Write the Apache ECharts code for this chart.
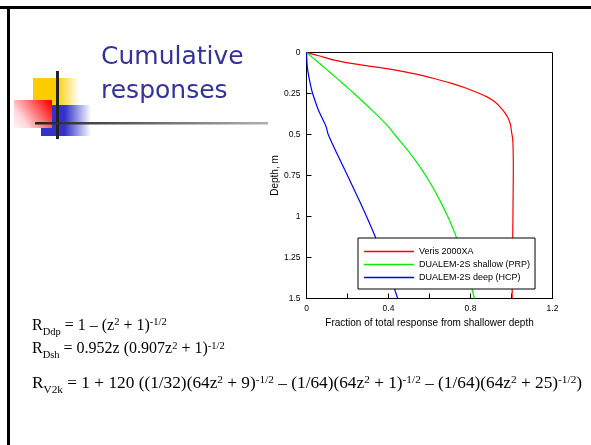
<!DOCTYPE html>
<html>
<head>
<meta charset="utf-8">
<script src="https://cdn.jsdelivr.net/npm/echarts@6/dist/echarts.min.js"></script>
<style>
html,body{margin:0;padding:0;background:#fff;}
#c{width:591px;height:445px;}
</style>
</head>
<body>
<div id="c"></div>
<script>
// ---- data ----
const seriesNames = ['Veris 2000XA', 'DUALEM-2S shallow (PRP)', 'DUALEM-2S deep (HCP)'];
const seriesColors = ['#ff0000', '#00ee00', '#0000ff'];

const verisDepth = [0, 0.02, 0.045, 0.065, 0.08, 0.095, 0.112, 0.133, 0.157, 0.185, 0.218, 0.245, 0.269, 0.297, 0.33, 0.365, 0.401, 0.44, 0.483, 0.53, 0.6, 0.7, 0.85, 1.0, 1.25, 1.5];
const verisFrac  = [0, 0.06, 0.13, 0.21, 0.29, 0.375, 0.455, 0.54, 0.618, 0.70, 0.78, 0.835, 0.878, 0.915, 0.943, 0.966, 0.984, 0.995, 1.0, 1.006, 1.008, 1.009, 1.008, 1.007, 1.005, 1.003];

const shallowDepth = [0, 0.05, 0.1, 0.15, 0.2, 0.25, 0.35, 0.45, 0.5, 0.6, 0.7, 0.8, 0.9, 1.0, 1.1, 1.25, 1.375, 1.5];
const shallowFrac  = [0, 0.048, 0.095, 0.142, 0.187, 0.232, 0.318, 0.398, 0.43, 0.496, 0.555, 0.606, 0.65, 0.689, 0.723, 0.765, 0.794, 0.819];

const deepDepth = [0, 0.1, 0.2, 0.25, 0.35, 0.45, 0.5, 0.625, 0.75, 0.875, 1.0, 1.125, 1.25, 1.375, 1.5];
const deepFrac  = [0, 0.005, 0.02, 0.03, 0.058, 0.095, 0.106, 0.152, 0.2, 0.247, 0.293, 0.336, 0.375, 0.411, 0.445];

const xTicks = { min: 0, max: 1.2, interval: 0.4 };
const yTicks = { min: 0, max: 1.5, interval: 0.25 };

const titleLines = ['Cumulative', 'responses'];
const xName = 'Fraction of total response from shallower depth';
const yName = 'Depth, m';

const equations = [
  '{m|R}{sub|Ddp}{m| = 1 – (z}{sup|2}{m| + 1)}{sup|-1/2}',
  '{m|R}{sub|Dsh}{m| = 0.952z (0.907z}{sup|2}{m| + 1)}{sup|-1/2}',
  '{m3|R}{sub3|V2k}{m3| = 1 + 120 ((1/32)(64z}{sup3|2}{m3| + 9)}{sup3|-1/2}{m3| – (1/64)(64z}{sup3|2}{m3| + 1)}{sup3|-1/2}{m3| – (1/64)(64z}{sup3|2}{m3| + 25)}{sup3|-1/2}{m3|)}'
];
// --------------------------------------

function zip(xs, zs) { return xs.map((x, i) => [x, zs[i]]); }
const seriesData = [zip(verisFrac, verisDepth), zip(shallowFrac, shallowDepth), zip(deepFrac, deepDepth)];

const chart = echarts.init(document.getElementById('c'), null, { renderer: 'canvas' });

const eqRich = {
  m: { fontFamily: 'Liberation Serif', fontSize: 16, color: '#000' },
  sub: { fontFamily: 'Liberation Serif', fontSize: 10.5, color: '#000', padding: [13, 0, 0, 0] },
  sup: { fontFamily: 'Liberation Serif', fontSize: 10.5, color: '#000', padding: [0, 0, 6, 0] },
  m3: { fontFamily: 'Liberation Serif', fontSize: 17.3, color: '#000' },
  sub3: { fontFamily: 'Liberation Serif', fontSize: 11.3, color: '#000', padding: [14, 0, 0, 0] },
  sup3: { fontFamily: 'Liberation Serif', fontSize: 11.3, color: '#000', padding: [0, 0, 6.5, 0] }
};
const eqY = [325.5, 349, 383];

const graphics = [
  // slide border (top & left)
  { type: 'rect', shape: { x: 0, y: 6, width: 591, height: 3 }, style: { fill: '#000' }, silent: true },
  { type: 'rect', shape: { x: 7, y: 6, width: 3, height: 439 }, style: { fill: '#000' }, silent: true },
  // decoration squares
  { type: 'rect', shape: { x: 33, y: 78, width: 46, height: 27 },
    style: { fill: new echarts.graphic.LinearGradient(0, 0, 1, 0, [
      { offset: 0, color: '#ffcc00' }, { offset: 0.52, color: '#ffcc00' }, { offset: 1, color: 'rgba(255,204,0,0)' }]) }, silent: true },
  { type: 'rect', shape: { x: 41, y: 105, width: 50, height: 31 },
    style: { fill: new echarts.graphic.LinearGradient(0, 0, 1, 0, [
      { offset: 0, color: '#3333cc' }, { offset: 0.48, color: '#3333cc' }, { offset: 1, color: 'rgba(51,51,204,0)' }]) }, silent: true },
  { type: 'rect', shape: { x: 14, y: 100, width: 38, height: 28 },
    style: { fill: new echarts.graphic.LinearGradient(1, 0, 0, 1, [
      { offset: 0, color: '#ff0000' }, { offset: 0.06, color: '#ff0505' }, { offset: 0.75, color: '#ffd8dc' }, { offset: 1, color: '#fff4f6' }]) }, silent: true },
  // black cross lines
  { type: 'rect', shape: { x: 56, y: 71, width: 3, height: 68 }, style: { fill: '#222' }, silent: true },
  { type: 'rect', shape: { x: 35, y: 122, width: 233, height: 2.5 },
    style: { fill: new echarts.graphic.LinearGradient(0, 0, 1, 0, [
      { offset: 0, color: '#222' }, { offset: 1, color: '#b0b0b0' }]) }, silent: true },
  // title
  { type: 'text', style: { x: 101, y: 57, text: titleLines[0], fontFamily: 'DejaVu Sans', fontSize: 25, fill: '#333399', verticalAlign: 'middle' }, silent: true },
  { type: 'text', style: { x: 101, y: 91.5, text: titleLines[1], fontFamily: 'DejaVu Sans', fontSize: 25, fill: '#333399', verticalAlign: 'middle' }, silent: true }
];
equations.forEach((t, i) => {
  graphics.push({ type: 'text', style: { x: 32, y: eqY[i], text: t, rich: eqRich, verticalAlign: 'middle' }, silent: true });
});

const axisFont = { fontFamily: 'Liberation Sans', fontSize: 8.5, color: '#000' };

chart.setOption({
  backgroundColor: '#fff',
  animation: false,
  grid: { left: 306.5, top: 52.5, width: 246, height: 246, show: true, borderColor: '#000', borderWidth: 1, backgroundColor: 'transparent' },
  legend: {
    data: seriesNames,
    orient: 'vertical',
    left: 358, top: 238,
    backgroundColor: '#fff',
    borderColor: '#000', borderWidth: 1,
    padding: [8, 5, 6, 6],
    icon: 'rect',
    itemGap: 2, itemWidth: 50, itemHeight: 1.3,
    textStyle: { fontFamily: 'Liberation Sans', fontSize: 9, color: '#000', lineHeight: 11 }
  },
  xAxis: {
    type: 'value', min: xTicks.min, max: xTicks.max, interval: xTicks.interval,
    name: xName, nameLocation: 'middle', nameGap: 18,
    nameTextStyle: { fontFamily: 'Liberation Sans', fontSize: 10, color: '#000' },
    axisLine: { show: true, onZero: false, lineStyle: { color: '#000', width: 1 } },
    axisTick: { show: true, inside: true, length: 5, lineStyle: { color: '#000' } },
    minorTick: { show: true, splitNumber: 2, length: 5, lineStyle: { color: '#000' } },
    splitLine: { show: false },
    axisLabel: Object.assign({ margin: 6, formatter: v => String(Math.round(v * 10) / 10) }, axisFont)
  },
  yAxis: {
    type: 'value', inverse: true, min: yTicks.min, max: yTicks.max, interval: yTicks.interval,
    name: yName, nameLocation: 'middle', nameGap: 26, nameRotate: 90,
    nameTextStyle: { fontFamily: 'Liberation Sans', fontSize: 10, color: '#000' },
    axisLine: { show: true, onZero: false, lineStyle: { color: '#000', width: 1 } },
    axisTick: { show: true, inside: true, length: 5, lineStyle: { color: '#000' } },
    splitLine: { show: false },
    axisLabel: Object.assign({ margin: 6, formatter: v => String(Math.round(v * 100) / 100) }, axisFont)
  },
  series: seriesNames.map((n, i) => ({
    name: n, type: 'line', data: seriesData[i], symbol: 'none', smooth: 0.3,
    color: seriesColors[i], itemStyle: { color: seriesColors[i] },
    lineStyle: { color: seriesColors[i], width: 1.2 }, z: 3
  })),
  graphic: graphics
});
</script>
</body>
</html>
